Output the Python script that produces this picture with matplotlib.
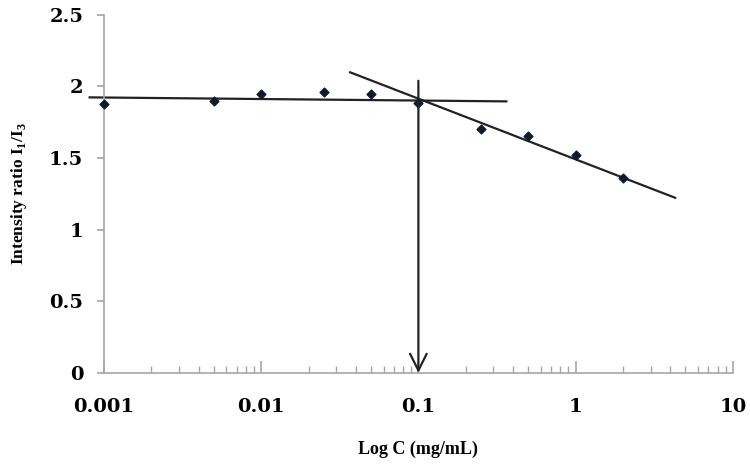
import matplotlib
matplotlib.use('Agg')

import matplotlib.pyplot as plt
from matplotlib.ticker import LogLocator, FixedLocator, NullFormatter

# ---------------- DATA ----------------
conc = [0.001, 0.005, 0.01, 0.025, 0.05, 0.1, 0.25, 0.5, 1, 2]
ratio = [1.875, 1.90, 1.95, 1.965, 1.95, 1.885, 1.705, 1.655, 1.525, 1.362]

# fitted lines (end points)
flat_x = [0.00081, 0.363]
flat_y = [1.924, 1.896]
slope_x = [0.0368, 4.30]
slope_y = [2.099, 1.223]

cmc = 0.1
arrow_top = 2.04

x_ticks = [0.001, 0.01, 0.1, 1, 10]
x_labels = ["0.001", "0.01", "0.1", "1", "10"]
y_ticks = [0, 0.5, 1, 1.5, 2, 2.5]
y_labels = ["0", "0.5", "1", "1.5", "2", "2.5"]
# --------------------------------------

plt.rcParams['mathtext.fontset'] = 'custom'
plt.rcParams['mathtext.rm'] = 'Liberation Serif'
plt.rcParams['mathtext.bf'] = 'Liberation Serif:bold'

fig = plt.figure(figsize=(7.5, 4.65), dpi=100)
ax = fig.add_axes([0.1387, 0.198, 0.977 - 0.1387, 0.968 - 0.198])

ax.plot(flat_x, flat_y, color='#222222', linewidth=1.6, clip_on=False)
ax.plot(slope_x, slope_y, color='#222222', linewidth=1.6, clip_on=False)
ax.scatter(conc, ratio, marker='D', s=20, color='#0d1b2a', zorder=3, clip_on=False)

ax.annotate('', xy=(cmc, 0), xytext=(cmc, arrow_top),
            arrowprops=dict(arrowstyle='->', color='#222222', lw=1.6,
                            mutation_scale=30, shrinkA=0, shrinkB=0))

ax.set_xscale('log')
ax.set_xlim(0.001, 10)
ax.set_ylim(0, 2.5)

gray = '#a6a6a6'
for side in ['top', 'right']:
    ax.spines[side].set_visible(False)
for side in ['left', 'bottom']:
    ax.spines[side].set_color(gray)
    ax.spines[side].set_linewidth(1.2)

ax.xaxis.set_major_locator(FixedLocator(x_ticks))
ax.xaxis.set_minor_locator(LogLocator(base=10, subs=range(2, 10)))
ax.xaxis.set_minor_formatter(NullFormatter())
ax.set_xticklabels(x_labels)
ax.set_yticks(y_ticks)
ax.set_yticklabels(y_labels)

ax.tick_params(axis='x', which='major', direction='in', length=9, width=1.2,
               color=gray, pad=18)
ax.tick_params(axis='x', which='minor', direction='in', length=5, width=1.0,
               color=gray)
ax.tick_params(axis='y', direction='out', length=5, width=1.2, color=gray, pad=10)

for lab in ax.get_xticklabels() + ax.get_yticklabels():
    lab.set_fontfamily('DejaVu Serif')
    lab.set_fontweight('bold')
    lab.set_fontsize(14)

ax.set_xlabel('Log C (mg/mL)', fontfamily='Liberation Serif', fontweight='bold',
              fontsize=13, labelpad=18)
ax.set_ylabel(r'Intensity ratio I$_\mathbf{1}$/I$_\mathbf{3}$',
              fontfamily='Liberation Serif', fontweight='bold', fontsize=12.5,
              labelpad=14)

fig.savefig('out.png', dpi=100)
